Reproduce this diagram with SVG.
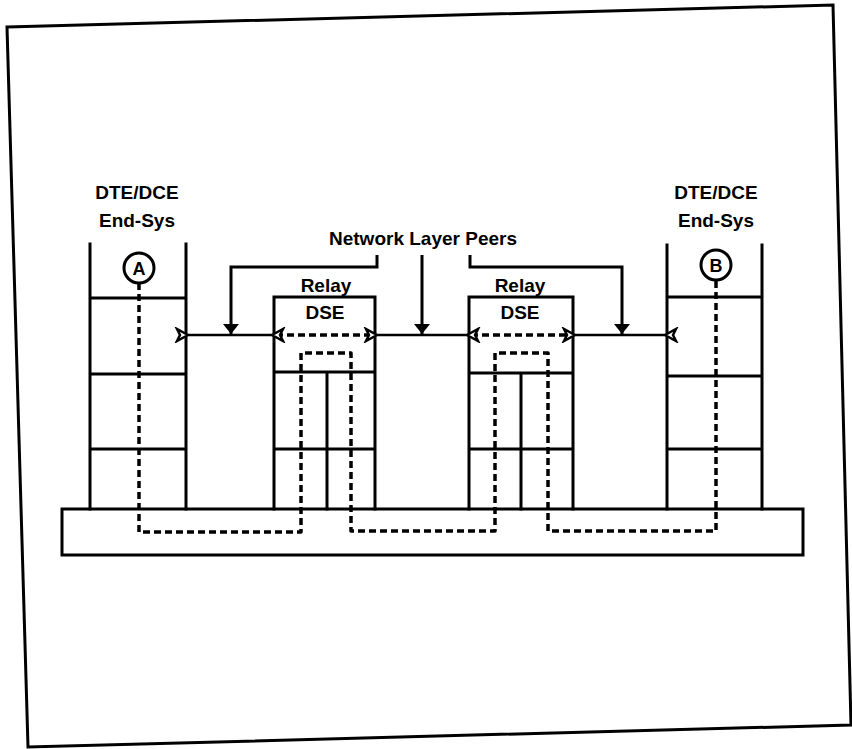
<svg xmlns="http://www.w3.org/2000/svg" width="852" height="749" viewBox="0 0 852 749">
<style>
.s{fill:none;stroke:#000;stroke-width:3;stroke-linecap:square}
.d{fill:none;stroke:#000;stroke-width:3.5;stroke-dasharray:7 4;stroke-linejoin:round}
.t{font-family:"Liberation Sans",Arial,sans-serif;font-weight:bold;font-size:19px;fill:#000;text-anchor:middle}
.c{fill:#fff;stroke:#000;stroke-width:3}
.h{fill:none;stroke:#000;stroke-width:2.5}
</style>
<defs>
<marker id="ah" viewBox="-2 -8 16 16" refX="0" refY="0" markerWidth="16" markerHeight="16" markerUnits="userSpaceOnUse" orient="auto-start-reverse">
<path d="M0,0 L11,-6 L8,0 L11,6 Z" fill="#fff" stroke="#000" stroke-width="2.5" stroke-linejoin="miter"/>
</marker>
<marker id="dn" viewBox="-8 -10 16 11" refX="0" refY="0" markerWidth="16" markerHeight="11" markerUnits="userSpaceOnUse" orient="0">
<path d="M-8,-10 L8,-10 L0,0 Z" fill="#000"/>
</marker>
</defs>
<rect width="852" height="749" fill="#fff"/>
<polygon points="7,27 833,5 851,725 28,747" fill="none" stroke="#000" stroke-width="3"/>

<g id="subnet">
<rect class="s" x="62" y="509" width="741" height="46"/>
</g>

<g id="stackA">
<path class="s" d="M90,244 V509 M186,244 V509 M90,298 H186 M90,374 H186 M90,449 H186"/>
<text class="t" x="137" y="199">DTE/DCE</text>
<text class="t" x="137" y="227">End-Sys</text>
<circle class="c" cx="139" cy="268" r="15"/>
<text class="t" x="139" y="275" style="font-size:18px">A</text>
</g>

<g id="relay1">
<path class="s" d="M274,509 V297 H375 V509 M274,372 H375 M274,449 H375 M327,372 V509"/>
<text class="t" x="326" y="292">Relay</text>
<text class="t" x="325" y="319">DSE</text>
</g>

<g id="relay2">
<path class="s" d="M469,509 V297 H573 V509 M469,373 H573 M469,449 H573 M521,373 V509"/>
<text class="t" x="520" y="292">Relay</text>
<text class="t" x="520" y="319">DSE</text>
</g>

<g id="stackB">
<path class="s" d="M667,245 V509 M762,245 V509 M667,297 H762 M667,376 H762 M667,449 H762"/>
<text class="t" x="716" y="199">DTE/DCE</text>
<text class="t" x="716" y="227">End-Sys</text>
<circle class="c" cx="716" cy="265" r="15"/>
<text class="t" x="716" y="272" style="font-size:18px">B</text>
</g>

<g id="label">
<text class="t" x="423" y="245">Network Layer Peers</text>
</g>

<g id="connectors">
<path class="d" d="M139,283 V532 H301 V353 H351 V531 H495 V353 H548 V531 H716 V280"/>
<path class="d" d="M276,335 H373 M471,335 H571"/>
<path class="h" d="M188,335 H272" marker-start="url(#ah)" marker-end="url(#ah)"/>
<path class="h" d="M377,335 H467" marker-start="url(#ah)" marker-end="url(#ah)"/>
<path class="h" d="M575,335 H665" marker-start="url(#ah)" marker-end="url(#ah)"/>
<path fill="none" stroke="#000" stroke-width="3" d="M377,255 V267 H231 V334" marker-end="url(#dn)"/>
<path fill="none" stroke="#000" stroke-width="3" d="M422,255 V334" marker-end="url(#dn)"/>
<path fill="none" stroke="#000" stroke-width="3" d="M470,255 V267 H622 V334" marker-end="url(#dn)"/>
</g>
</svg>
